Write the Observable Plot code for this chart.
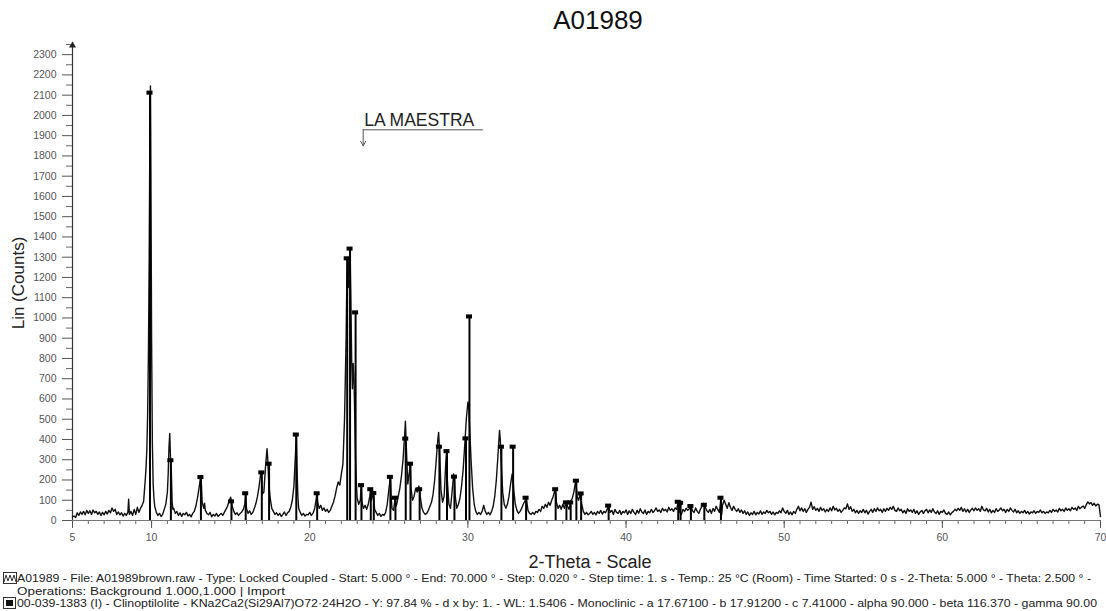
<!DOCTYPE html>
<html><head><meta charset="utf-8">
<script src="https://cdn.jsdelivr.net/npm/d3@7"></script>
<script src="https://cdn.jsdelivr.net/npm/@observablehq/plot@0.6"></script>
<style>
body{margin:0;background:#fff;font-family:"Liberation Sans",Arial,sans-serif;}
#wrap{position:relative;width:1106px;height:611px;overflow:hidden;background:#fff;}
#title{position:absolute;top:7px;left:598px;transform:translateX(-50%);font-size:26px;line-height:26px;color:#111;white-space:nowrap;}
#chart{position:absolute;top:38px;left:0;}
#ylab{position:absolute;left:18px;top:283px;transform:translate(-50%,-50%) rotate(-90deg);font-size:17px;line-height:17px;color:#222;white-space:nowrap;}
#xlab{position:absolute;left:590px;top:554px;transform:translateX(-50%);font-size:18px;line-height:17px;color:#222;white-space:nowrap;}
.cap{position:absolute;left:17px;font-size:10.5px;line-height:11px;color:#222;white-space:nowrap;transform-origin:0 0;}
.icon{position:absolute;left:3px;}
</style></head><body>
<div id="wrap">
  <div id="title"></div>
  <div id="chart"></div>
  <div id="ylab"></div>
  <div id="xlab"></div>
  <svg class="icon" style="top:572px" width="14" height="12"><rect x="0.5" y="0.5" width="13" height="11" fill="none" stroke="#333"/><polyline points="1,10 3,3 5,9 7,3 9,9 11,3 13,10" fill="none" stroke="#333" stroke-width="1"/></svg>
  <div class="cap" id="cap1" style="top:573px"></div>
  <div class="cap" id="cap2" style="top:586px"></div>
  <svg class="icon" style="top:597px" width="13" height="12"><rect x="0.5" y="0.5" width="12" height="11" fill="none" stroke="#333"/><rect x="3" y="3" width="7" height="6" fill="#111"/></svg>
  <div class="cap" id="cap3" style="top:598px"></div>
</div>
<script>
// ---------- texts ----------
const chartTitle = "A01989";
const yLabel = "Lin (Counts)";
const xLabel = "2-Theta - Scale";
const annotationLabel = "LA MAESTRA";
const captionLines = [
  "A01989 - File: A01989brown.raw - Type: Locked Coupled - Start: 5.000 ° - End: 70.000 ° - Step: 0.020 ° - Step time: 1. s - Temp.: 25 °C (Room) - Time Started: 0 s - 2-Theta: 5.000 ° - Theta: 2.500 ° -",
  "Operations: Background 1.000,1.000 | Import",
  "00-039-1383 (I) - Clinoptilolite - KNa2Ca2(Si29Al7)O72·24H2O - Y: 97.84 % - d x by: 1. - WL: 1.5406 - Monoclinic - a 17.67100 - b 17.91200 - c 7.41000 - alpha 90.000 - beta 116.370 - gamma 90.00"
];

// ---------- ticks ----------
const xMajorTicks = [5, 10, 20, 30, 40, 50, 60, 70];
const xMinorTicks = [5,6,7,8,9,10,11,12,13,14,15,16,17,18,19,20,21,22,23,24,25,26,27,28,29,30,31,32,33,34,35,36,37,38,39,40,41,42,43,44,45,46,47,48,49,50,51,52,53,54,55,56,57,58,59,60,61,62,63,64,65,66,67,68,69,70];
const yMajorTicks = [0,100,200,300,400,500,600,700,800,900,1000,1100,1200,1300,1400,1500,1600,1700,1800,1900,2000,2100,2200,2300];
const yMinorTicks = [50,150,250,350,450,550,650,750,850,950,1050,1150,1250,1350,1450,1550,1650,1750,1850,1950,2050,2150,2250,2350];

// ---------- measured scan (2-theta, counts) ----------
const scanLow = [
[5.0,18],[5.1,22],[5.2,15],[5.3,38],[5.4,25],[5.5,42],[5.6,30],[5.7,45],[5.8,28],[5.9,50],
[6.0,35],[6.1,48],[6.2,30],[6.3,52],[6.4,38],[6.5,45],[6.6,30],[6.7,42],[6.8,25],[6.9,40],
[7.0,28],[7.1,45],[7.2,32],[7.3,50],[7.4,38],[7.5,62],[7.6,45],[7.7,55],[7.8,30],[7.9,42],
[8.0,28],[8.1,38],[8.2,22],[8.3,35],[8.4,25],[8.5,40],[8.55,105],[8.6,30],[8.7,45],[8.8,25],[8.9,55],
[9.0,30],[9.1,65],[9.2,40],[9.3,60],[9.4,75],[9.5,95],[9.55,150],[9.6,200],[9.65,260],[9.7,350],[9.75,520],[9.8,820],[9.85,1300],[9.9,2000],[9.93,2145],[9.96,1700],
[10.0,900],[10.05,380],[10.1,180],[10.15,110],[10.2,70],[10.3,40],[10.4,25],[10.5,35],[10.6,20],[10.7,30],[10.8,55],[10.9,80],
[11.0,140],[11.05,230],[11.1,360],[11.15,430],[11.2,300],[11.25,240],[11.3,90],[11.35,55],[11.4,60],[11.5,35],[11.6,45],[11.7,25],[11.8,38],[11.9,20],
[12.0,35],[12.1,28],[12.2,40],[12.3,22],[12.4,30],[12.5,18],[12.6,35],[12.7,45],[12.8,70],[12.9,110],
[13.0,160],[13.1,215],[13.15,180],[13.2,90],[13.3,60],[13.35,85],[13.4,50],[13.5,35],[13.6,28],[13.7,40],[13.8,18],[13.9,30],
[14.0,22],[14.1,35],[14.2,20],[14.3,28],[14.4,35],[14.5,25],[14.6,40],[14.7,55],[14.8,70],[14.9,95],
[15.0,115],[15.05,95],[15.1,70],[15.2,45],[15.3,30],[15.4,38],[15.5,25],[15.6,35],[15.7,42],[15.8,55],[15.9,80],[15.95,130],
[16.0,60],[16.1,35],[16.2,48],[16.3,30],[16.4,40],[16.5,60],[16.6,85],[16.7,120],[16.8,170],[16.9,230],[16.95,240],
[17.0,130],[17.1,140],[17.2,260],[17.3,355],[17.35,300],[17.4,200],[17.5,110],[17.6,60],[17.7,45],[17.8,30],[17.9,38],
[18.0,25],[18.1,35],[18.2,20],[18.3,30],[18.4,42],[18.5,25],[18.6,38],[18.7,45],[18.8,65],[18.9,100],
[19.0,170],[19.1,330],[19.15,425],[19.2,250],[19.25,120],[19.3,60],[19.4,40],[19.5,25],[19.6,35],[19.7,22],[19.8,30],[19.9,28]
];
const scanMid = [
[20.0,40],[20.1,25],[20.2,35],[20.3,55],[20.4,100],[20.45,135],[20.5,90],[20.6,60],[20.7,75],[20.8,50],[20.9,62],
[21.0,45],[21.1,55],[21.2,40],[21.3,50],[21.4,70],[21.5,90],[21.6,120],[21.7,160],[21.8,190],[21.9,175],
[22.0,230],[22.1,280],[22.2,500],[22.3,900],[22.35,1200],[22.4,1300],[22.45,1150],[22.5,1280],[22.55,1340],[22.6,1100],[22.65,800],[22.7,650],[22.75,775],[22.8,700],[22.85,500],[22.9,300],[22.95,180],
[23.0,110],[23.1,80],[23.2,100],[23.25,170],[23.3,90],[23.4,60],[23.5,75],[23.6,55],[23.7,80],[23.8,120],[23.85,150],[23.9,100],
[24.0,130],[24.05,110],[24.1,55],[24.2,40],[24.3,25],[24.4,35],[24.5,20],[24.6,30],[24.7,25],[24.8,40],[24.9,80],
[25.0,150],[25.1,215],[25.15,120],[25.2,60],[25.3,50],[25.4,110],[25.45,70],[25.5,80],[25.6,120],[25.7,160],[25.8,220],[25.9,300],
[26.0,420],[26.05,490],[26.1,380],[26.2,180],[26.3,240],[26.35,280],[26.4,160],[26.5,100],[26.6,120],[26.7,160],[26.8,140],[26.9,170],[26.95,150],
[27.0,110],[27.1,60],[27.2,40],[27.3,30],[27.4,35],[27.5,50],[27.6,70],[27.7,90],[27.8,130],[27.9,200],
[28.0,300],[28.1,400],[28.15,435],[28.2,360],[28.3,150],[28.4,90],[28.5,120],[28.6,280],[28.65,340],[28.7,200],[28.8,80],[28.9,60],
[29.0,140],[29.1,230],[29.15,210],[29.2,120],[29.3,60],[29.4,80],[29.5,110],[29.6,170],[29.7,250],[29.8,370],[29.9,500],
[30.0,585],[30.05,570],[30.1,480],[30.2,300],[30.3,160],[30.4,80],[30.5,45],[30.6,30],[30.7,40],[30.8,30],[30.9,45],
[31.0,75],[31.1,45],[31.2,30],[31.3,40],[31.4,28],[31.5,45],[31.6,70],[31.7,120],[31.8,200],[31.9,320],
[32.0,445],[32.05,400],[32.1,300],[32.2,140],[32.3,80],[32.4,60],[32.5,80],[32.6,120],[32.7,180],[32.8,230],[32.85,220],[32.9,150],
[33.0,80],[33.1,50],[33.2,35],[33.3,45],[33.4,60],[33.5,80],[33.6,95],[33.7,110],[33.75,80],[33.8,50],[33.9,35],
[34.0,30],[34.1,40],[34.2,30],[34.3,45],[34.4,40],[34.5,55],[34.6,45],[34.7,70],[34.8,60],[34.9,80],
[35.0,65],[35.1,90],[35.2,75],[35.3,100],[35.4,120],[35.5,150],[35.55,130],[35.6,90],[35.7,60],[35.8,75],[35.9,55],
[36.0,80],[36.1,60],[36.2,90],[36.3,70],[36.4,55],[36.5,95],[36.6,110],[36.7,140],[36.8,190],[36.85,170],[36.9,120],
[37.0,100],[37.1,130],[37.2,80],[37.3,45],[37.4,30],[37.5,40],[37.6,28],[37.7,35],[37.8,45],[37.9,30]
];
const scanHigh = [
[38.0,40],[38.1,28],[38.2,45],[38.3,35],[38.4,50],[38.5,32],[38.6,45],[38.7,38],[38.8,55],[38.9,70],
[39.0,40],[39.1,50],[39.2,30],[39.3,55],[39.4,40],[39.5,35],[39.6,50],[39.7,30],[39.8,45],[39.9,38],
[40.0,52],[40.1,30],[40.2,48],[40.3,35],[40.4,55],[40.5,40],[40.6,30],[40.7,50],[40.8,36],[40.9,58],
[41.0,42],[41.1,35],[41.2,52],[41.3,30],[41.4,45],[41.5,38],[41.6,55],[41.7,40],[41.8,48],[41.9,62],
[42.0,45],[42.1,52],[42.2,40],[42.3,60],[42.4,48],[42.5,55],[42.6,42],[42.7,65],[42.8,50],[42.9,58],
[43.0,45],[43.1,62],[43.2,55],[43.3,92],[43.35,95],[43.4,40],[43.5,30],[43.6,55],[43.7,45],[43.8,60],[43.9,50],
[44.0,58],[44.1,75],[44.2,48],[44.3,40],[44.4,62],[44.5,45],[44.6,35],[44.7,55],[44.8,70],[44.9,85],
[45.0,68],[45.1,50],[45.2,40],[45.3,55],[45.4,35],[45.5,60],[45.6,45],[45.7,70],[45.8,55],[45.9,40],
[46.0,105],[46.05,30],[46.1,75],[46.2,100],[46.3,80],[46.4,60],[46.5,88],[46.6,65],[46.7,50],[46.8,70],[46.9,55],
[47.0,45],[47.1,58],[47.2,40],[47.3,52],[47.4,35],[47.5,48],[47.6,30],[47.7,42],[47.8,25],[47.9,38],
[48.0,30],[48.1,45],[48.2,28],[48.3,40],[48.4,32],[48.5,48],[48.6,30],[48.7,42],[48.8,35],[48.9,50],
[49.0,38],[49.1,45],[49.2,30],[49.3,42],[49.4,28],[49.5,40],[49.6,35],[49.7,48],[49.8,38],[49.9,62],
[50.0,45],[50.1,35],[50.2,50],[50.3,30],[50.4,42],[50.5,28],[50.6,45],[50.7,35],[50.8,55],[50.9,70],
[51.0,48],[51.1,62],[51.2,45],[51.3,58],[51.4,40],[51.5,55],[51.6,65],[51.7,90],[51.8,55],[51.9,68],
[52.0,50],[52.1,60],[52.2,45],[52.3,65],[52.4,50],[52.5,58],[52.6,42],[52.7,55],[52.8,45],[52.9,62],
[53.0,48],[53.1,70],[53.2,52],[53.3,60],[53.4,45],[53.5,55],[53.6,40],[53.7,50],[53.8,62],[53.9,58],
[54.0,82],[54.1,55],[54.2,68],[54.3,45],[54.4,55],[54.5,38],[54.6,50],[54.7,35],[54.8,48],[54.9,40],
[55.0,55],[55.1,38],[55.2,50],[55.3,32],[55.4,45],[55.5,55],[55.6,40],[55.7,58],[55.8,45],[55.9,62],
[56.0,48],[56.1,55],[56.2,40],[56.3,58],[56.4,45],[56.5,60],[56.6,50],[56.7,65],[56.8,55],[56.9,70],
[57.0,50],[57.1,45],[57.2,62],[57.3,48],[57.4,55],[57.5,38],[57.6,50],[57.7,35],[57.8,58],[57.9,45],
[58.0,52],[58.1,40],[58.2,55],[58.3,35],[58.4,48],[58.5,30],[58.6,42],[58.7,50],[58.8,35],[58.9,48],
[59.0,55],[59.1,38],[59.2,52],[59.3,40],[59.4,58],[59.5,42],[59.6,35],[59.7,48],[59.8,30],[59.9,45],
[60.0,40],[60.1,52],[60.2,35],[60.3,30],[60.4,42],[60.5,28],[60.6,38],[60.7,45],[60.8,55],[60.9,48],
[61.0,60],[61.1,50],[61.2,65],[61.3,45],[61.4,58],[61.5,42],[61.6,55],[61.7,40],[61.8,52],[61.9,60],
[62.0,48],[62.1,62],[62.2,50],[62.3,58],[62.4,45],[62.5,70],[62.6,52],[62.7,48],[62.8,60],[62.9,42],
[63.0,55],[63.1,38],[63.2,50],[63.3,40],[63.4,58],[63.5,45],[63.6,52],[63.7,62],[63.8,48],[63.9,55],
[64.0,40],[64.1,55],[64.2,45],[64.3,62],[64.4,50],[64.5,42],[64.6,55],[64.7,38],[64.8,48],[64.9,35],
[65.0,45],[65.1,38],[65.2,50],[65.3,35],[65.4,45],[65.5,32],[65.6,42],[65.7,38],[65.8,48],[65.9,35],
[66.0,45],[66.1,40],[66.2,52],[66.3,38],[66.4,45],[66.5,35],[66.6,42],[66.7,38],[66.8,50],[66.9,40],
[67.0,55],[67.1,45],[67.2,52],[67.3,42],[67.4,60],[67.5,48],[67.6,55],[67.7,45],[67.8,62],[67.9,50],
[68.0,58],[68.1,48],[68.2,65],[68.3,55],[68.4,62],[68.5,50],[68.6,70],[68.7,58],[68.8,65],[68.9,72],
[69.0,60],[69.1,78],[69.2,92],[69.3,82],[69.4,88],[69.5,75],[69.6,85],[69.7,72],[69.8,80],[69.9,78],[70.0,20]
];

// ---------- reference pattern sticks: Clinoptilolite 00-039-1383 (2-theta, counts) ----------
const stickTheta  = [9.9, 11.22, 13.12, 15.05, 15.95, 16.97, 17.43, 19.15, 20.47, 22.37, 22.55, 22.9, 23.27, 23.86, 24.05, 25.1, 25.42, 26.07, 26.37, 26.95, 28.2, 28.68, 29.15, 29.88, 30.1, 32.12, 32.86, 33.68, 35.55, 36.23, 36.5, 36.86, 37.16, 38.9, 43.3, 43.45, 44.1, 44.95, 46.0];
const stickCounts = [2110, 295, 212, 92, 132, 235, 278, 422, 132, 1292, 1340, 1025, 172, 152, 133, 213, 110, 402, 278, 152, 362, 340, 214, 403, 1005, 362, 362, 110, 152, 87, 87, 194, 131, 71, 90, 85, 69, 75, 110];

// ---------- annotation (data coords) ----------
const annotationText = [{theta: 23.45, counts: 1975, label: annotationLabel}];
const annotationBracket = [{theta: 23.38, counts: 1929}, {theta: 30.92, counts: 1929}];
const annotationArrow = [{theta: 23.38, c1: 1929, c2: 1850}];

const scan = [...scanLow, ...scanMid, ...scanHigh].map(([theta, counts]) => ({theta, counts}));
const sticks = stickTheta.map((theta, i) => ({theta, counts: stickCounts[i]}));

document.getElementById("title").textContent = chartTitle;
document.getElementById("ylab").textContent = yLabel;
document.getElementById("xlab").textContent = xLabel;
captionLines.forEach((t, i) => document.getElementById("cap" + (i + 1)).textContent = t);

const axisColor = "#666";
const chart = Plot.plot({
  width: 1106,
  height: 510,
  marginLeft: 72,
  marginRight: 6,
  marginTop: 4,
  marginBottom: 28,
  x: {domain: [5, 70], label: null},
  y: {domain: [0, 2360], label: null},
  style: {fontFamily: "'Liberation Sans', Arial, sans-serif", fontSize: "10.5px", background: "white", overflow: "visible"},
  marks: [
    Plot.axisY(yMinorTicks.filter(v => v <= 2350), {tickSize: 6, tickFormat: () => "", color: axisColor}),
    Plot.axisY(yMajorTicks, {tickSize: 10, tickPadding: 6, color: "#555", label: null, tickFormat: d => String(d)}),
    Plot.axisX(xMinorTicks, {tickSize: 4, tickFormat: () => "", color: axisColor}),
    Plot.axisX(xMajorTicks, {tickSize: 8, tickPadding: 5, color: "#555", label: null, tickFormat: d => String(d)}),
    Plot.ruleY([0], {stroke: "#777", strokeWidth: 1.2}),
    Plot.ruleX([5], {y1: 0, y2: 2360, stroke: "#333", strokeWidth: 1.2}),
    Plot.dot([{theta: 5, counts: 2345}], {x: "theta", y: "counts", symbol: "triangle", r: 2.6, fill: "#222", stroke: "none"}),
    Plot.line(scan, {x: "theta", y: "counts", stroke: "#111", strokeWidth: 1.4}),
    Plot.ruleX(sticks, {x: "theta", y1: 0, y2: "counts", stroke: "#000", strokeWidth: 2}),
    Plot.rect(sticks, {x1: d => d.theta - 0.19, x2: d => d.theta + 0.19, y1: d => d.counts - 10, y2: d => d.counts + 10, fill: "#000"}),
    Plot.text(annotationText, {x: "theta", y: "counts", text: "label", textAnchor: "start", fontSize: 17.5, fill: "#222"}),
    Plot.line(annotationBracket, {x: "theta", y: "counts", stroke: "#555", strokeWidth: 1}),
    Plot.arrow(annotationArrow, {x: "theta", y1: "c1", y2: "c2", stroke: "#555", strokeWidth: 1, headLength: 8})
  ]
});
document.getElementById("chart").appendChild(chart);

// fit caption lines to their measured widths in the original
const capTargets = [1074, 268, 1080];
captionLines.forEach((t, i) => {
  const el = document.getElementById("cap" + (i + 1));
  const w = el.getBoundingClientRect().width;
  if (w > 0) el.style.transform = `scaleX(${capTargets[i] / w})`;
});
</script>
</body></html>
